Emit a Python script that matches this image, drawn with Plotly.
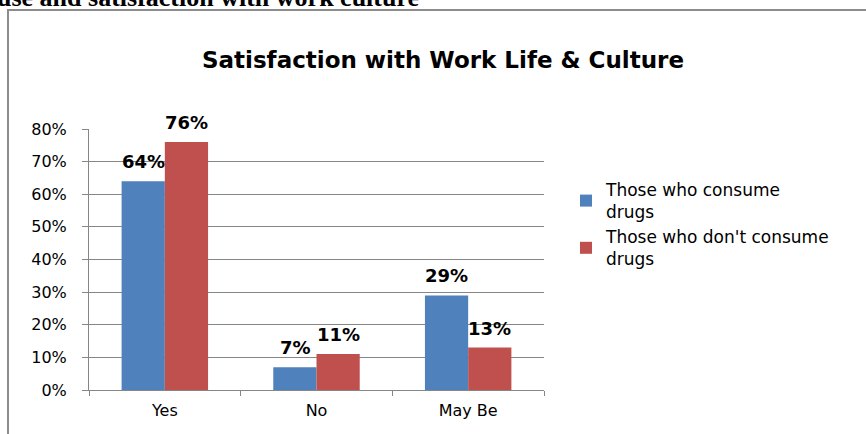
import plotly.graph_objects as go

categories = ["Yes", "No", "May Be"]
consume = [64, 7, 29]
dont_consume = [76, 11, 13]
series_names = ["Those who consume<br>drugs", "Those who don't consume<br>drugs"]
tick_vals = [0, 10, 20, 30, 40, 50, 60, 70, 80]
tick_text = [f"{v}%" for v in tick_vals]

BLUE = "#4f81bd"
RED = "#c0504d"
FONT = "DejaVu Sans"

W, H = 866, 434
L, R, T, B = 89, 322, 129, 44
pw, ph = W - L - R, H - T - B

def px_x(x):
    return (x - L) / pw

def px_y(y):
    return (H - B - y) / ph

fig = go.Figure()
fig.add_trace(go.Bar(x=categories, y=consume, name=series_names[0],
                     marker=dict(color=BLUE, line=dict(width=0))))
fig.add_trace(go.Bar(x=categories, y=dont_consume, name=series_names[1],
                     marker=dict(color=RED, line=dict(width=0))))

# data labels
for i, c in enumerate(categories):
    for vals, shift in ((consume, -21.5), (dont_consume, 21.5)):
        fig.add_annotation(x=c, y=vals[i], xref="x", yref="y", text=f"<b>{vals[i]}%</b>",
                           showarrow=False, xshift=shift, yanchor="bottom", yshift=7,
                           font=dict(family=FONT, size=18, color="#000"))

# chart frame
fig.add_shape(type="rect", xref="paper", yref="paper",
              x0=px_x(8), x1=px_x(880), y0=px_y(450), y1=px_y(10),
              line=dict(color="#8c8c8c", width=2), fillcolor="rgba(0,0,0,0)", layer="below")

# caption text cut off at top (as in the reference)
fig.add_annotation(xref="paper", yref="paper", x=px_x(-5), y=px_y(-3), xanchor="left", yanchor="middle",
                   text="<b>use and satisfaction with work culture</b>", showarrow=False,
                   font=dict(family="Liberation Serif", size=26, color="#000"))

fig.update_layout(
    width=W, height=H,
    margin=dict(l=L, r=R, t=T, b=B, autoexpand=False),
    paper_bgcolor="white", plot_bgcolor="white",
    barmode="group", bargap=0.43, bargroupgap=0,
    title=dict(text="<b>Satisfaction with Work Life & Culture</b>", x=443 / W, xanchor="center",
               y=1 - 60 / H, yanchor="middle", yref="container",
               font=dict(family=FONT, size=23, color="#000")),
    font=dict(family=FONT, size=16, color="#000"),
    legend=dict(x=px_x(566), y=px_y(172), xanchor="left", yanchor="top",
                font=dict(family=FONT, size=17, color="#000"),
                tracegroupgap=16, itemwidth=30, bgcolor="rgba(0,0,0,0)"),
    xaxis=dict(showline=True, linecolor="#868686", linewidth=1, ticks="outside",
               tickcolor="#868686", ticklen=5, tickson="boundaries", ticklabelstandoff=6,
               tickfont=dict(family=FONT, size=16, color="#000"), showgrid=False),
    yaxis=dict(range=[0, 80], tickvals=tick_vals, ticktext=tick_text, showline=True,
               linecolor="#868686", linewidth=1, ticks="outside", tickcolor="#868686",
               ticklen=6, gridcolor="#868686", gridwidth=1, zeroline=False, ticklabelstandoff=12,
               tickfont=dict(family=FONT, size=16, color="#000")),
)

fig.write_html("out.html", config={"displayModeBar": False},
               post_script="document.body.style.margin='0';")
